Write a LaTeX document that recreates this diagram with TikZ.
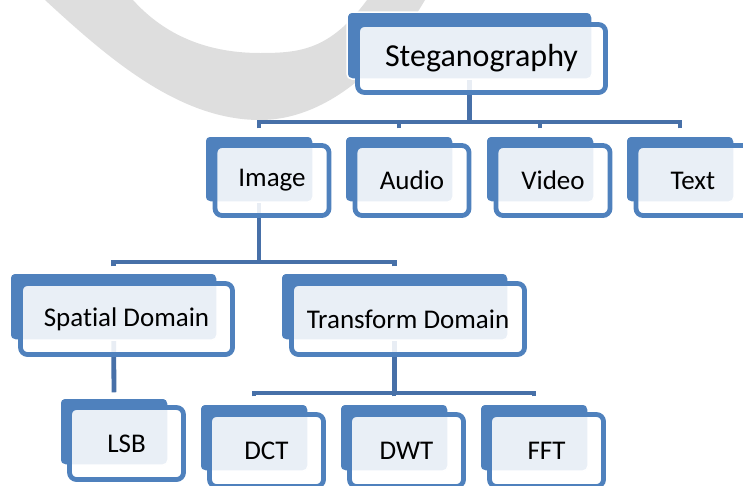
\documentclass[tikz,border=0pt]{standalone}
\usepackage{fontspec}
\setmainfont{Carlito}[Ligatures=NoCommon]
\usepackage{tikz}
\definecolor{smblue}{HTML}{4F81BD}
\definecolor{wireblue}{HTML}{4770A8}
\definecolor{arcgray}{HTML}{DEDEDE}
\pgfdeclarelayer{arcs}
\pgfdeclarelayer{wires}
\pgfsetlayers{arcs,wires,main}

\begin{document}
\begin{tikzpicture}[
  x=1pt, y=-1pt,
  backbox/.style={rectangle, rounded corners=5pt, fill=smblue, draw=white, line width=1.5pt, inner sep=0pt, minimum width=108pt, minimum height=66pt},
  frontbox/.style={rectangle, rounded corners=7pt, draw=smblue, line width=4.8pt, fill=white, fill opacity=0.88, text opacity=1, inner sep=0pt, minimum width=114pt, minimum height=71pt, font=\fontsize{27}{32}\selectfont},
  link/.style={draw=wireblue, line width=4.8pt}
]
\useasboundingbox (0,0) rectangle (743,485);

% grey arc in the back
\begin{pgfonlayer}{arcs}
\fill[arcgray] (45,0) .. controls (110,60) and (180,120) .. (260,120) .. controls (330,120) and (390,60) .. (425,0) -- (367,0) .. controls (330,50) and (300,53) .. (260,53) .. controls (200,53) and (160,30) .. (133,0) -- cycle;
\end{pgfonlayer}

% root
\node[backbox, minimum width=245pt, minimum height=67pt] (steg) at (469.5,45.5) {};
\node[frontbox, minimum width=248pt, minimum height=68pt, font=\fontsize{32}{38}\selectfont] (stegF) at (481.5,58.5) {Steganography};

% media
\node[backbox] (img) at (259,169) {};
\node[frontbox, minimum height=70pt] (imgF) at (272,180.5) {Image};
\node[backbox] (aud) at (399,169) {};
\node[frontbox, minimum height=70pt] (audF) at (412,180.5) {Audio};
\node[backbox] (vid) at (540,169) {};
\node[frontbox, minimum height=70pt] (vidF) at (553,180.5) {Video};
\node[backbox] (txt) at (680,169) {};
\node[frontbox, minimum height=70pt] (txtF) at (693,180.5) {Text};

% domains
\node[backbox, minimum width=207pt, minimum height=67pt] (spat) at (113.5,306.5) {};
\node[frontbox, minimum width=212pt] (spatF) at (126.5,319) {Spatial Domain};
\node[backbox, minimum width=227pt, minimum height=67pt] (trans) at (394.5,306.5) {};
\node[frontbox, minimum width=233pt] (transF) at (408,319) {Transform Domain};

% methods
\node[backbox, minimum height=67pt] (lsb) at (114,431.5) {};
\node[frontbox, minimum height=72pt] (lsbF) at (126.5,443.5) {LSB};
\node[backbox, minimum height=67pt] (dct) at (254,437.5) {};
\node[frontbox, minimum height=72pt] (dctF) at (266.5,450.5) {DCT};
\node[backbox, minimum height=67pt] (dwt) at (394,437.5) {};
\node[frontbox, minimum height=72pt] (dwtF) at (406.5,450.5) {DWT};
\node[backbox, minimum height=67pt] (fft) at (534,437.5) {};
\node[frontbox, minimum height=72pt] (fftF) at (546.5,450.5) {FFT};

% connectors
\begin{pgfonlayer}{wires}
\coordinate (bar1) at (469.5,122);
\coordinate (bar2) at (259,262);
\coordinate (bar3) at (394.5,393);
\draw[link] (steg) -- (bar1);
\foreach \c in {img,aud,vid,txt}
  \draw[link, shorten <=7pt] (\c.north) |- (bar1);
\draw[link] (img) -- (bar2);
\foreach \c in {spat,trans}
  \draw[link, shorten <=6pt] (\c.north) |- (bar2);
\draw[link, shorten >=5pt] (spat) -- (lsb.north);
\draw[link] (trans) -- (bar3);
\foreach \c in {dct,dwt,fft}
  \draw[link, shorten <=7pt] (\c.north) |- (bar3);
\end{pgfonlayer}
\end{tikzpicture}
\end{document}
